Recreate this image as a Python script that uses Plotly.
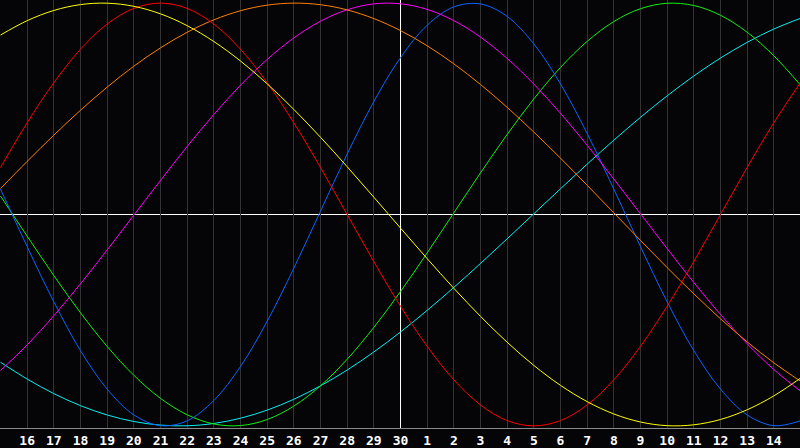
import plotly.graph_objects as go

# x positions: one per day (index 0..30)
day_index = list(range(31))
tick_pos = list(range(1, 30))
tick_labels = ["16", "17", "18", "19", "20", "21", "22", "23", "24", "25", "26", "27", "28", "29", "30",
               "1", "2", "3", "4", "5", "6", "7", "8", "9", "10", "11", "12", "13", "14"]
today_index = 15  # the "30" day, marked with a white vertical line

# values, one per day (index 0..30), scale -1..1
blue = [0.120, -0.152, -0.413, -0.644, -0.826, -0.948, -0.999, -0.976, -0.880, -0.719, -0.505, -0.254,
        0.016, 0.286, 0.534, 0.742, 0.895, 0.982, 0.996, 0.937, 0.807, 0.618, 0.383, 0.120, -0.152,
        -0.413, -0.644, -0.826, -0.948, -0.999, -0.976]
red = [0.2225, 0.4339, 0.6235, 0.7818, 0.9010, 0.9749, 1.0, 0.9749, 0.9010, 0.7818, 0.6235, 0.4339,
       0.2225, 0.0, -0.2225, -0.4339, -0.6235, -0.7818, -0.9010, -0.9749, -1.0, -0.9749, -0.9010,
       -0.7818, -0.6235, -0.4339, -0.2225, 0.0, 0.2225, 0.4339, 0.6235]
green = [0.0875, -0.1026, -0.2890, -0.4650, -0.6242, -0.7608, -0.8698, -0.9474, -0.9909, -0.9985,
         -0.9700, -0.9064, -0.8101, -0.6845, -0.5342, -0.3646, -0.1817, 0.0077, 0.1967, 0.3787, 0.5470,
         0.6957, 0.8190, 0.9128, 0.9736, 0.9992, 0.9887, 0.9425, 0.8623, 0.7508, 0.6122]
magenta = [-0.7382, -0.6168, -0.4789, -0.3278, -0.1678, -0.0033, 0.1613, 0.3216, 0.4730, 0.6115, 0.7335,
           0.8353, 0.9144, 0.9686, 0.9963, 0.9968, 0.9702, 0.9171, 0.8391, 0.7382, 0.6168, 0.4789,
           0.3278, 0.1678, 0.0033, -0.1613, -0.3216, -0.4730, -0.6115, -0.7335, -0.8353]
yellow = [0.8490, 0.9169, 0.9652, 0.9930, 0.9996, 0.9849, 0.9492, 0.8933, 0.8183, 0.7261, 0.6182, 0.4971,
          0.3654, 0.2260, 0.0818, -0.0642, -0.2088, -0.3491, -0.4818, -0.6043, -0.7140, -0.8082,
          -0.8853, -0.9436, -0.9817, -0.9990, -0.9949, -0.9697, -0.9237, -0.8580, -0.7742]
orange = [0.1227, 0.2512, 0.3754, 0.4932, 0.6026, 0.7015, 0.7885, 0.8620, 0.9208, 0.9639, 0.9904, 1.0,
          0.9924, 0.9679, 0.9268, 0.8700, 0.7982, 0.7127, 0.6150, 0.5068, 0.3899, 0.2664, 0.1383,
          0.0079, -0.1227, -0.2512, -0.3754, -0.4932, -0.6026, -0.7015, -0.7885]
cyan = [-0.6990, -0.7785, -0.8474, -0.9043, -0.9484, -0.9793, -0.9963, -0.9995, -0.9885, -0.9637,
        -0.9254, -0.8741, -0.8104, -0.7357, -0.6503, -0.5557, -0.4535, -0.3450, -0.2316, -0.1149,
        0.0035, 0.1217, 0.2382, 0.3515, 0.4598, 0.5615, 0.6555, 0.7402, 0.8145, 0.8774, 0.9280]

series = [
    ("cyan", cyan, "#00f0f0"),
    ("green", green, "#10f010"),
    ("blue", blue, "#0a64ff"),
    ("magenta", magenta, "#ff00ff"),
    ("orange", orange, "#ff7f00"),
    ("red", red, "#ff0000"),
    ("yellow", yellow, "#ffff00"),
]

Y_RANGE = [-1.01, 1.0147]

fig = go.Figure()
# today marker (vertical white line)
fig.add_trace(go.Scatter(x=[today_index, today_index], y=Y_RANGE, mode="lines",
                         line=dict(color="#ffffff", width=1), hoverinfo="skip",
                         cliponaxis=True))
for name, vals, col in series:
    fig.add_trace(go.Scatter(x=day_index, y=vals, mode="lines", name=name,
                             line=dict(color=col, width=1, shape="spline"),
                             hoverinfo="skip"))

fig.add_shape(type="line", xref="paper", yref="y", x0=0, x1=1, y0=0, y1=0,
              line=dict(color="#ffffff", width=1), layer="below")

fig.update_layout(
    width=800, height=448,
    margin=dict(l=0, r=0, t=0, b=20),
    paper_bgcolor="#050508",
    plot_bgcolor="#050508",
    showlegend=False,
    xaxis=dict(range=[-0.01875, 29.98125], tickvals=tick_pos, ticktext=tick_labels,
               showgrid=True, gridcolor="#333333", gridwidth=1, zeroline=False,
               showline=True, linecolor="#8a8a8a", linewidth=1, mirror=True,
               ticks="", tickfont=dict(family="DejaVu Sans Mono", size=13, color="#ffffff",
                                       weight="bold"), fixedrange=True),
    yaxis=dict(range=Y_RANGE, showgrid=False, zeroline=False, showticklabels=False,
               showline=True, linecolor="#8a8a8a", linewidth=1, ticks="", fixedrange=True),
)

fig.write_html("out.html", config={"displayModeBar": False},
               post_script="document.body.style.margin='0';document.body.style.overflow='hidden';")
